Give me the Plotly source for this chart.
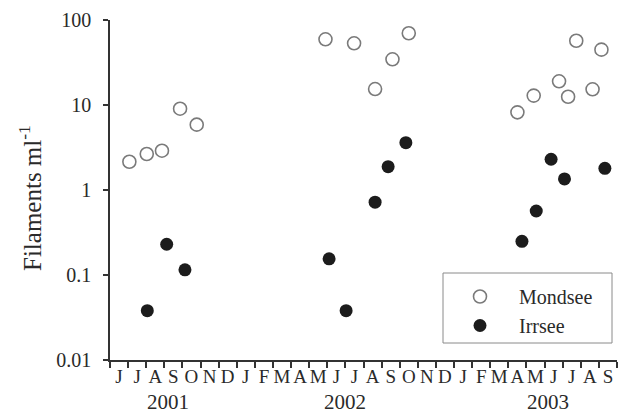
import plotly.graph_objects as go

# Month index: 0 = start of June 2001, 28 = end of September 2003
month_labels = ["J", "J", "A", "S", "O", "N", "D",
                "J", "F", "M", "A", "M", "J", "J", "A", "S", "O", "N", "D",
                "J", "F", "M", "A", "M", "J", "J", "A", "S"]
year_labels = ["2001", "2002", "2003"]
year_pos = [3.2, 13.0, 24.2]

mondsee_x = [1.07, 2.03, 2.87, 3.87, 4.79, 11.9, 13.48, 14.64, 15.6, 16.5,
             22.5, 23.4, 24.8, 25.3, 25.75, 26.65, 27.14]
mondsee_y = [2.15, 2.65, 2.9, 9.05, 5.87, 59.3, 53.2, 15.4, 34.5, 69.8,
             8.2, 12.9, 19.0, 12.5, 57.0, 15.3, 44.8]
irrsee_x = [2.06, 3.13, 4.14, 12.1, 13.04, 14.64, 15.36, 16.34,
            22.75, 23.54, 24.36, 25.1, 27.33]
irrsee_y = [0.038, 0.23, 0.115, 0.155, 0.038, 0.72, 1.88, 3.6,
            0.249, 0.566, 2.3, 1.35, 1.8]

y_ticks = [0.01, 0.1, 1, 10, 100]
y_ticktext = ["0.01", "0.1", "1", "10", "100"]

FONT = "Liberation Serif, Times New Roman, DejaVu Serif, serif"
TXT = "#2a2a2a"
AX = "#333333"

# page body has an 8px margin, so the figure is drawn 8px smaller
W, H = 619, 409
L, T = 102, 12
PW, PH = 507, 340

fig = go.Figure()
fig.add_trace(go.Scatter(
    x=mondsee_x, y=mondsee_y, mode="markers", name="Mondsee",
    marker=dict(symbol="circle-open", size=13, color="#7a7a7a",
                line=dict(width=1.6, color="#7a7a7a")),
    cliponaxis=False))
fig.add_trace(go.Scatter(
    x=irrsee_x, y=irrsee_y, mode="markers", name="Irrsee",
    marker=dict(symbol="circle", size=13, color="#1c1c1c",
                line=dict(width=0)),
    cliponaxis=False))
# invisible trace to carry the month-label axis
fig.add_trace(go.Scatter(x=[0, 28], y=[1, 1], xaxis="x2", mode="markers",
                         marker=dict(opacity=0), showlegend=False,
                         hoverinfo="skip"))

n = len(month_labels)
fig.update_layout(
    width=W, height=H,
    margin=dict(l=L, r=W - L - PW, t=T, b=H - T - PH, autoexpand=False),
    paper_bgcolor="white", plot_bgcolor="white",
    font=dict(family=FONT, color=TXT, size=15),
    showlegend=True,
    legend=dict(x=(441 - 110) / PW, y=(360 - 277) / PH, xanchor="left",
                yanchor="top", bgcolor="rgba(0,0,0,0)", borderwidth=0,
                font=dict(family=FONT, size=20, color=TXT),
                itemwidth=68, tracegroupgap=0),
    xaxis=dict(range=[0, n], tickvals=list(range(n + 1)), showticklabels=False,
               ticks="outside", ticklen=6, tickwidth=1.5, tickcolor=AX,
               showline=True, linecolor=AX, linewidth=1.5, showgrid=False,
               zeroline=False),
    xaxis2=dict(range=[0, n], overlaying="x", side="bottom", anchor="y",
                tickvals=[i + 0.5 for i in range(n)], ticktext=month_labels,
                ticks="", showline=False, showgrid=False, zeroline=False,
                ticklabelstandoff=3,
                tickfont=dict(family=FONT, size=19, color=TXT)),
    yaxis=dict(type="log", range=[-2, 2], tickvals=y_ticks, ticktext=y_ticktext,
               ticks="outside", ticklen=5, tickwidth=1.5, tickcolor=AX,
               showline=True, linecolor=AX, linewidth=1.5, showgrid=False,
               zeroline=False, ticklabelstandoff=8,
               tickfont=dict(family=FONT, size=20, color=TXT)),
)

for lab, xp in zip(year_labels, year_pos):
    fig.add_annotation(x=xp, y=-(402 - 360) / PH, xref="x", yref="paper",
                       text=lab, showarrow=False, yanchor="middle",
                       font=dict(family=FONT, size=21, color=TXT))

fig.add_annotation(x=-(110 - 30) / PW, y=(360 - 198) / PH, xref="paper",
                   yref="paper", text="Filaments ml<sup>-1</sup>",
                   textangle=-90, showarrow=False, xanchor="center",
                   yanchor="middle", font=dict(family=FONT, size=25, color=TXT))

fig.add_shape(type="rect", xref="paper", yref="paper",
              x0=(443 - 110) / PW, x1=(612 - 110) / PW,
              y0=(360 - 343) / PH, y1=(360 - 273) / PH,
              line=dict(color="#8a8a8a", width=1), fillcolor="rgba(0,0,0,0)")

fig.write_html("out.html")
